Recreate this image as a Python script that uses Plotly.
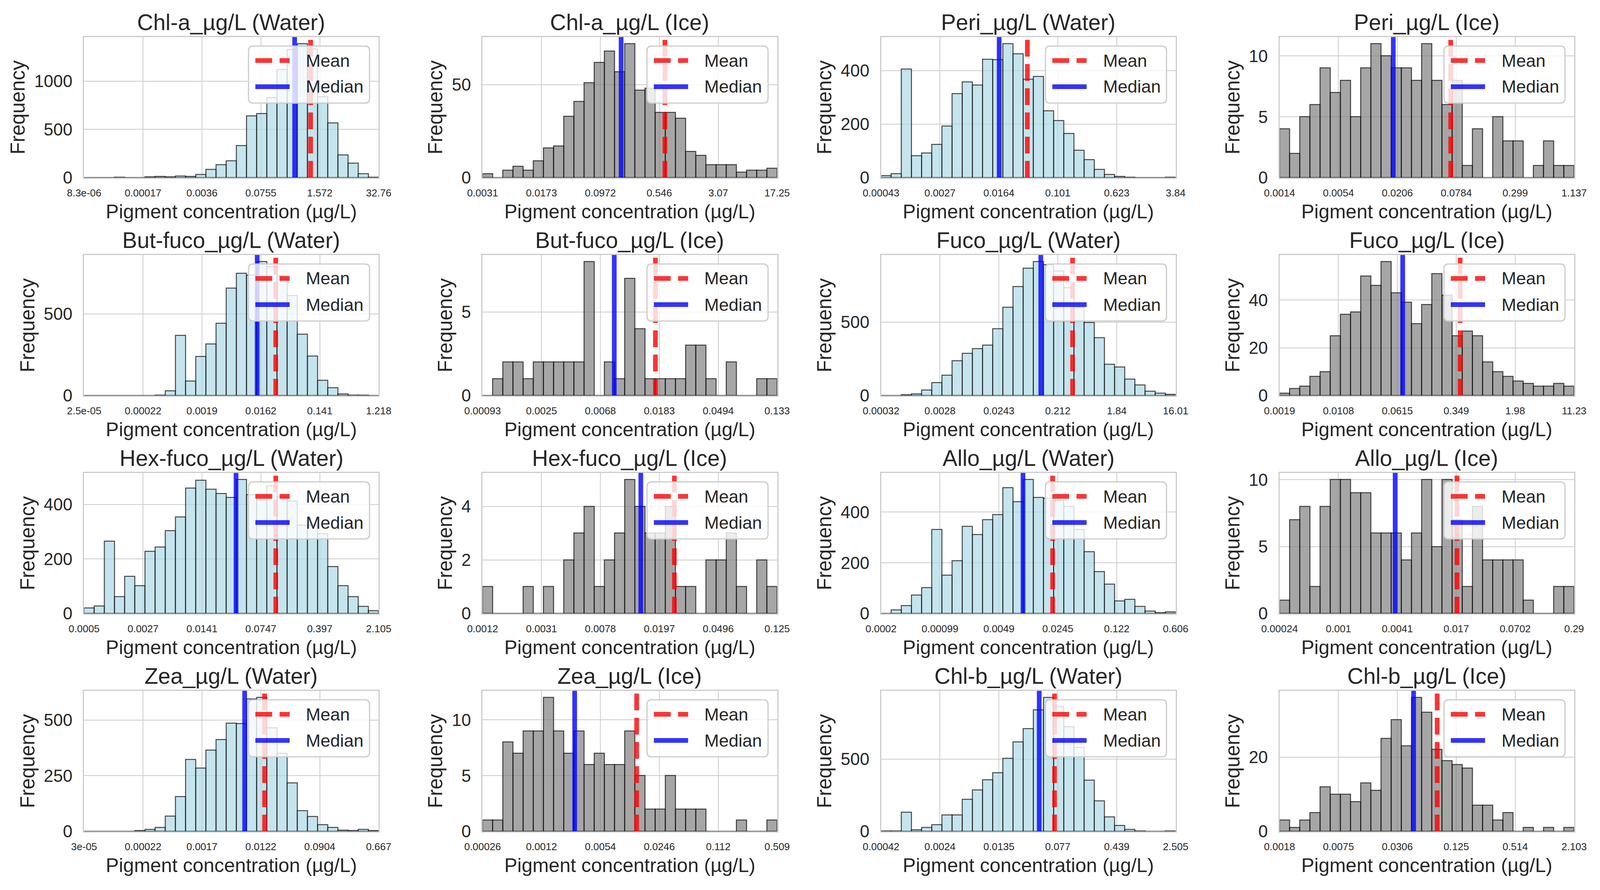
import numpy as np
import plotly.graph_objects as go
from plotly.subplots import make_subplots

# --- data (29 log-spaced bins per panel) ---
titles = [
    "Chl-a_µg/L (Water)", "Chl-a_µg/L (Ice)", "Peri_µg/L (Water)", "Peri_µg/L (Ice)",
    "But-fuco_µg/L (Water)", "But-fuco_µg/L (Ice)", "Fuco_µg/L (Water)", "Fuco_µg/L (Ice)",
    "Hex-fuco_µg/L (Water)", "Hex-fuco_µg/L (Ice)", "Allo_µg/L (Water)", "Allo_µg/L (Ice)",
    "Zea_µg/L (Water)", "Zea_µg/L (Ice)", "Chl-b_µg/L (Water)", "Chl-b_µg/L (Ice)",
]

chla_water = [2, 2, 2, 4, 2, 0, 8, 14, 9, 17, 11, 34, 83, 134, 173, 332, 639, 661, 829, 1118,
              1327, 1386, 1332, 835, 565, 233, 149, 41, 4]
chla_ice = [2, 0, 4, 6, 4, 9, 16, 17, 33, 41, 51, 62, 68, 57, 72, 47, 48, 35, 35, 32,
            14, 12, 7, 7, 7, 3, 4, 4, 5]
peri_water = [8, 15, 406, 81, 92, 124, 193, 313, 357, 346, 442, 441, 500, 462, 367, 377, 249, 213,
              165, 102, 67, 31, 12, 4, 2, 0, 0, 0, 2]
peri_ice = [4, 2, 5, 6, 9, 7, 8, 5, 9, 11, 10, 9, 9, 8, 11, 8, 6, 8, 1, 4, 0, 5, 3, 3, 0, 1, 3, 1, 1]
butfuco_water = [0, 0, 0, 0, 0, 0, 0, 3, 29, 369, 88, 240, 315, 443, 657, 747, 735, 819, 789, 733,
                 611, 375, 241, 94, 47, 10, 2, 3, 0]
butfuco_ice = [0, 1, 2, 2, 1, 2, 2, 2, 2, 2, 8, 0, 2, 1, 7, 4, 1, 1, 1, 1, 3, 3, 1, 0, 2, 0, 0, 1, 1]
fuco_water = [0, 0, 5, 10, 37, 87, 139, 238, 287, 318, 344, 455, 602, 742, 867, 912, 892, 848, 735,
              600, 497, 393, 214, 195, 111, 71, 30, 15, 8]
fuco_ice = [1, 3, 4, 8, 10, 25, 34, 35, 50, 46, 56, 43, 39, 30, 38, 51, 42, 25, 27, 25,
            14, 10, 8, 6, 5, 4, 4, 5, 4]
hexfuco_water = [20, 27, 265, 61, 136, 101, 228, 243, 303, 354, 460, 489, 456, 439, 426, 491, 435,
                 417, 468, 428, 412, 324, 324, 292, 172, 102, 61, 26, 10]
hexfuco_ice = [1, 0, 0, 0, 1, 0, 1, 0, 2, 3, 4, 1, 2, 3, 5, 4, 3, 3, 4, 1, 1, 0, 2, 2, 3, 1, 0, 2, 1]
allo_water = [0, 14, 31, 73, 101, 331, 151, 208, 344, 311, 370, 390, 496, 441, 528, 458, 455, 445,
              422, 331, 244, 165, 115, 49, 55, 28, 10, 3, 6]
allo_ice = [1, 7, 8, 2, 8, 10, 10, 9, 9, 6, 6, 6, 4, 6, 10, 5, 10, 7, 2, 8, 4, 4, 4, 4, 1, 0, 0, 2, 2]
zea_water = [0, 0, 0, 0, 0, 3, 9, 18, 69, 156, 323, 284, 364, 412, 485, 484, 594, 601, 464, 350,
             217, 93, 67, 30, 17, 5, 3, 9, 3]
zea_ice = [1, 1, 8, 7, 9, 9, 12, 9, 7, 9, 6, 7, 6, 6, 9, 5, 2, 2, 5, 2, 2, 2, 0, 0, 0, 1, 0, 0, 1]
chlb_water = [2, 2, 133, 10, 28, 45, 113, 113, 221, 286, 358, 406, 505, 618, 710, 841, 927, 862,
              724, 581, 354, 211, 101, 40, 14, 2, 0, 0, 2]
chlb_ice = [3, 1, 3, 5, 12, 10, 10, 8, 13, 11, 25, 30, 23, 36, 32, 22, 19, 18, 17, 7,
            7, 3, 5, 0, 1, 0, 1, 0, 1]

tick_labels = [
    ["8.3e-06", "0.00017", "0.0036", "0.0755", "1.572", "32.76"],
    ["0.0031", "0.0173", "0.0972", "0.546", "3.07", "17.25"],
    ["0.00043", "0.0027", "0.0164", "0.101", "0.623", "3.84"],
    ["0.0014", "0.0054", "0.0206", "0.0784", "0.299", "1.137"],
    ["2.5e-05", "0.00022", "0.0019", "0.0162", "0.141", "1.218"],
    ["0.00093", "0.0025", "0.0068", "0.0183", "0.0494", "0.133"],
    ["0.00032", "0.0028", "0.0243", "0.212", "1.84", "16.01"],
    ["0.0019", "0.0108", "0.0615", "0.349", "1.98", "11.23"],
    ["0.0005", "0.0027", "0.0141", "0.0747", "0.397", "2.105"],
    ["0.0012", "0.0031", "0.0078", "0.0197", "0.0496", "0.125"],
    ["0.0002", "0.00099", "0.0049", "0.0245", "0.122", "0.606"],
    ["0.00024", "0.001", "0.0041", "0.017", "0.0702", "0.29"],
    ["3e-05", "0.00022", "0.0017", "0.0122", "0.0904", "0.667"],
    ["0.00026", "0.0012", "0.0054", "0.0246", "0.112", "0.509"],
    ["0.00042", "0.0024", "0.0135", "0.077", "0.439", "2.505"],
    ["0.0018", "0.0075", "0.0306", "0.125", "0.514", "2.103"],
]

means = [0.98, 0.645, 0.0394, 0.0687, 0.0280, 0.0171, 0.363, 0.390,
         0.114, 0.0247, 0.0213, 0.01725, 0.0138, 0.0137, 0.0703, 0.0788]
medians = [0.43, 0.179, 0.0165, 0.0186, 0.0142, 0.00855, 0.113, 0.0717,
           0.0370, 0.01455, 0.00952, 0.00389, 0.00702, 0.00278, 0.0447, 0.0448]
ytick_steps = [500, 50, 200, 5, 500, 5, 500, 20, 200, 2, 200, 5, 250, 5, 500, 20]

counts = [chla_water, chla_ice, peri_water, peri_ice, butfuco_water, butfuco_ice,
          fuco_water, fuco_ice, hexfuco_water, hexfuco_ice, allo_water, allo_ice,
          zea_water, zea_ice, chlb_water, chlb_ice]

# --- styling ---
W, H = 4204, 2279   # reference canvas; positions below are given in its pixels
FONT = "Liberation Sans, Arial, sans-serif"
TXT = "#262626"
GRID = "#cccccc"
RED = "rgba(255,0,0,0.8)"
BLUE = "rgba(0,0,255,0.8)"
DASH = "43px,19px"
fills = {"Water": "rgba(173,216,230,0.7)", "Ice": "rgba(128,128,128,0.7)"}


def px(x):
    return x / W


def py(y):
    return 1 - y / H


def round_box(L, T, R, B, r=12):
    return (f"M {px(L + r)},{py(T)} L {px(R - r)},{py(T)} Q {px(R)},{py(T)} {px(R)},{py(T + r)} "
            f"L {px(R)},{py(B - r)} Q {px(R)},{py(B)} {px(R - r)},{py(B)} "
            f"L {px(L + r)},{py(B)} Q {px(L)},{py(B)} {px(L)},{py(B - r)} "
            f"L {px(L)},{py(T + r)} Q {px(L)},{py(T)} {px(L + r)},{py(T)} Z")


fig = make_subplots(rows=4, cols=4)
annotations = []
shapes = []

for k, title in enumerate(titles):
    row, col = k // 4 + 1, k % 4 + 1
    left = 221 + 1047 * (col - 1)
    top = 95 + 558 * (row - 1)
    right = left + 774
    xd = [px(left), px(right)]
    yd = [py(top + 360), py(top)]

    lo = np.log10(float(tick_labels[k][0]))
    hi = np.log10(float(tick_labels[k][-1]))
    c = counts[k]
    edges = np.linspace(lo, hi, len(c) + 1)
    centers = (edges[:-1] + edges[1:]) / 2
    ymax = 1.05 * max(c)
    kind = "Water" if "Water" in title else "Ice"

    fig.add_trace(go.Bar(
        x=centers, y=c, width=edges[1] - edges[0], showlegend=False,
        marker=dict(color=fills[kind], line=dict(color="rgba(0,0,0,0.7)", width=2.5)),
    ), row=row, col=col)
    mx = np.log10(means[k])
    md = np.log10(medians[k])
    fig.add_trace(go.Scatter(
        x=[mx, mx], y=[0, ymax], mode="lines", showlegend=False,
        line=dict(color=RED, width=12, dash=DASH),
    ), row=row, col=col)
    fig.add_trace(go.Scatter(
        x=[md, md], y=[0, ymax], mode="lines", showlegend=False,
        line=dict(color=BLUE, width=12),
    ), row=row, col=col)

    fig.update_xaxes(
        domain=xd, range=[lo, hi], tickvals=np.linspace(lo, hi, 6), ticktext=tick_labels[k],
        tickfont=dict(size=26, family=FONT, color=TXT), ticks="", ticklabelstandoff=14,
        showgrid=True, gridcolor=GRID, gridwidth=2, zeroline=False, automargin=False,
        showline=True, mirror=True, linecolor=GRID, linewidth=3,
        title=dict(text="Pigment concentration (µg/L)", font=dict(size=50, family=FONT, color=TXT),
                   standoff=16),
        row=row, col=col)
    fig.update_yaxes(
        domain=yd, range=[0, ymax], dtick=ytick_steps[k], tick0=0,
        tickfont=dict(size=44, family=FONT, color=TXT), ticks="", ticklabelstandoff=18,
        showgrid=True, gridcolor=GRID, gridwidth=2, zeroline=False, automargin=False,
        showline=True, mirror=True, linecolor=GRID, linewidth=3,
        title=dict(text="Frequency", font=dict(size=51, family=FONT, color=TXT), standoff=8),
        row=row, col=col)

    # legend box drawn by hand (matplotlib-like handles)
    bl, bt, br, bb = right - 24 - 318, top + 23, right - 24, top + 23 + 146
    shapes.append(dict(type="path", path=round_box(bl, bt, br, bb), xref="paper", yref="paper",
                       fillcolor="rgba(255,255,255,0.8)", line=dict(color=GRID, width=3)))
    shapes.append(dict(type="line", xref="paper", yref="paper",
                       x0=px(bl + 18), x1=px(bl + 108), y0=py(bt + 37), y1=py(bt + 37),
                       line=dict(color=RED, width=12, dash=DASH)))
    shapes.append(dict(type="line", xref="paper", yref="paper",
                       x0=px(bl + 18), x1=px(bl + 108), y0=py(bt + 104), y1=py(bt + 104),
                       line=dict(color=BLUE, width=12)))
    for label, dy in (("Mean", 37), ("Median", 104)):
        annotations.append(dict(
            text=label, x=px(bl + 149), y=py(bt + dy), xref="paper", yref="paper",
            xanchor="left", yanchor="middle", showarrow=False,
            font=dict(size=45, family=FONT, color=TXT),
        ))

    annotations.append(dict(
        text=title, x=px(left + 387), y=py(top), xref="paper", yref="paper",
        xanchor="center", yanchor="bottom", yshift=4, showarrow=False,
        font=dict(size=57, family=FONT, color=TXT),
    ))

# size follows the browser viewport so nothing is clipped at the right/bottom edge
fig.update_layout(
    template="none", autosize=True, margin=dict(l=0, r=0, t=0, b=0),
    paper_bgcolor="white", plot_bgcolor="white", bargap=0, showlegend=False,
    annotations=annotations, shapes=shapes, font=dict(family=FONT, color=TXT),
)

fig.write_html(
    "out.html",
    config={"displayModeBar": False, "responsive": True},
    default_width="100vw", default_height="100vh",
    post_script="document.body.style.margin='0';document.body.style.overflow='hidden';",
)
